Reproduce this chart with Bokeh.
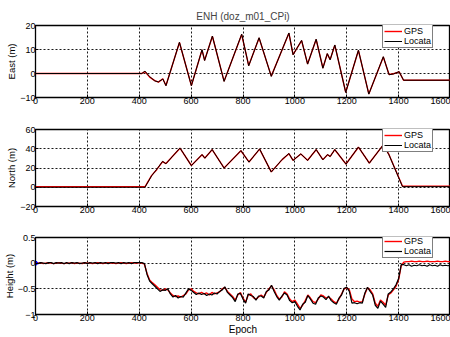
from bokeh.plotting import figure
from bokeh.layouts import column
from bokeh.models import Range1d, FixedTicker, Legend, LegendItem
from bokeh.embed import file_html
from bokeh.resources import INLINE

# ---------------- data ----------------
x_ticks = [0, 200, 400, 600, 800, 1000, 1200, 1400, 1600]
east_ticks = [-10, 0, 10, 20]
north_ticks = [-20, 0, 20, 40, 60]
height_ticks = [-1, -0.5, 0, 0.5]

east_epoch = [0, 410, 422, 440, 460, 474, 491, 503, 555, 601, 642, 652, 682, 727, 795,
              822, 862, 909, 977, 993, 1026, 1049, 1082, 1108, 1125, 1136, 1154, 1196,
              1245, 1285, 1341, 1363, 1380, 1402, 1419, 1600]
east_gps = [0, 0, 0.8, -1.5, -3.0, -3.6, -2.2, -5.0, 12.9, -5.0, 9.8, 5.5, 15.5, -3.2, 16.2,
            3.3, 14.8, -1.1, 16.8, 7.9, 13.7, 4.0, 14.2, 2.3, 8.2, 5.8, 11.8, -7.8,
            9.6, -8.5, 6.9, -0.4, -0.1, 0.7, -2.8, -2.8]
east_locata = [0, 0, 1.0, -1.3, -3.1, -3.5, -2.3, -5.1, 13.0, -5.1, 9.9, 5.4, 15.6, -3.3, 16.4,
               3.2, 14.9, -1.2, 16.9, 7.8, 13.8, 3.9, 14.3, 2.2, 8.3, 5.7, 11.9, -7.9,
               9.7, -8.6, 7.0, -0.5, -0.2, 0.8, -2.8, -2.8]

north_epoch = [0, 422, 448, 468, 490, 503, 557, 601, 642, 653, 681, 727, 792, 823, 864,
               909, 951, 977, 993, 1023, 1049, 1082, 1108, 1126, 1136, 1154, 1197, 1245,
               1287, 1341, 1363, 1415, 1600]
north_gps = [0.5, 0.5, 12.3, 18.5, 26.7, 24.6, 40.6, 22.6, 33.8, 30.4, 39.0, 20.1, 37.9, 26.3, 39.6,
             16.0, 28.7, 34.9, 28.0, 34.5, 28.0, 39.0, 28.7, 33.8, 32.0, 39.0, 24.2, 41.6,
             25.2, 44.0, 33.8, 1.0, 1.0]
north_locata = [0, 0, 12.0, 18.8, 26.9, 24.4, 40.8, 22.4, 34.0, 30.2, 39.2, 19.9, 38.1, 26.1, 39.8,
                15.8, 28.9, 35.1, 27.8, 34.7, 27.8, 39.2, 28.5, 34.0, 31.8, 39.2, 24.0, 41.8,
                25.0, 44.2, 33.6, 0.6, 0.6]

height_epoch = list(range(0, 1601, 10))
height_gps = [
    0.00, 0.00, 0.01, -0.01, 0.00, 0.01, 0.00, -0.01, 0.00, 0.01,
    0.00, -0.01, 0.00, 0.00, 0.01, -0.01, 0.00, 0.00, -0.01, 0.01,
    0.00, 0.00, -0.01, 0.00, 0.01, 0.00, -0.01, 0.00, 0.01, 0.00,
    0.00, -0.01, 0.00, 0.01, 0.00, -0.01, 0.00, 0.01, 0.00, 0.00,
    0.01, 0.00, -0.02, -0.20, -0.33, -0.38, -0.42, -0.47, -0.52, -0.53,
    -0.50, -0.52, -0.58, -0.63, -0.65, -0.64, -0.66, -0.63, -0.60, -0.52,
    -0.50, -0.55, -0.58, -0.60, -0.57, -0.60, -0.58, -0.62, -0.57, -0.60,
    -0.58, -0.56, -0.50, -0.47, -0.55, -0.60, -0.65, -0.72, -0.62, -0.57,
    -0.68, -0.76, -0.62, -0.60, -0.67, -0.70, -0.66, -0.62, -0.66, -0.57,
    -0.50, -0.44, -0.52, -0.63, -0.70, -0.66, -0.56, -0.60, -0.70, -0.75,
    -0.72, -0.80, -0.88, -0.82, -0.73, -0.62, -0.68, -0.75, -0.77, -0.70,
    -0.62, -0.64, -0.68, -0.66, -0.70, -0.75, -0.78, -0.70, -0.60, -0.50,
    -0.48, -0.52, -0.70, -0.75, -0.74, -0.76, -0.75, -0.60, -0.48, -0.52,
    -0.60, -0.78, -0.84, -0.72, -0.76, -0.82, -0.62, -0.58, -0.52, -0.45,
    -0.32, -0.05, 0.02, 0.03, 0.03, 0.04, 0.03, 0.03, 0.04, 0.03,
    0.03, 0.04, 0.03, 0.03, 0.03, 0.04, 0.03, 0.03, 0.04, 0.03,
    0.03]
height_locata = [
    0.01, -0.01, 0.01, 0.00, -0.01, 0.01, 0.01, -0.01, 0.01, 0.00,
    0.01, -0.01, 0.01, -0.01, 0.01, 0.00, 0.01, -0.01, 0.00, 0.01,
    -0.01, 0.01, 0.00, 0.01, -0.01, 0.01, 0.00, 0.01, -0.01, 0.01,
    0.01, 0.00, 0.01, -0.01, 0.01, 0.00, 0.01, -0.01, 0.01, 0.01,
    0.01, 0.01, -0.01, -0.22, -0.35, -0.40, -0.45, -0.50, -0.55, -0.52,
    -0.53, -0.50, -0.60, -0.66, -0.63, -0.68, -0.65, -0.66, -0.58, -0.50,
    -0.53, -0.57, -0.61, -0.58, -0.61, -0.59, -0.63, -0.60, -0.62, -0.58,
    -0.60, -0.55, -0.52, -0.46, -0.57, -0.62, -0.67, -0.75, -0.60, -0.59,
    -0.70, -0.78, -0.60, -0.63, -0.65, -0.72, -0.64, -0.64, -0.68, -0.55,
    -0.52, -0.43, -0.55, -0.65, -0.72, -0.64, -0.58, -0.62, -0.73, -0.77,
    -0.75, -0.84, -0.91, -0.80, -0.76, -0.63, -0.70, -0.78, -0.80, -0.68,
    -0.64, -0.66, -0.71, -0.64, -0.73, -0.77, -0.80, -0.68, -0.62, -0.49,
    -0.47, -0.55, -0.78, -0.77, -0.79, -0.77, -0.78, -0.58, -0.47, -0.55,
    -0.62, -0.82, -0.88, -0.74, -0.80, -0.86, -0.60, -0.56, -0.50, -0.42,
    -0.30, -0.03, -0.03, -0.05, -0.03, -0.06, -0.04, -0.05, -0.03, -0.05,
    -0.04, -0.06, -0.03, -0.05, -0.04, -0.06, -0.03, -0.05, -0.04, -0.05,
    -0.04]
start_marker_x = [0]
start_marker_y = [0]

FONT = "Liberation Sans"
W = 450
LEFT = 34


def make_fig(height, top, bottom, yrange, yticks, ylabel, xlabel=None, title=None):
    p = figure(width=W, height=height, output_backend="svg", toolbar_location=None,
               x_range=Range1d(0, 1600), y_range=Range1d(*yrange),
               min_border_left=LEFT, min_border_right=0,
               min_border_top=top, min_border_bottom=bottom,
               title=title)
    p.background_fill_color = "white"
    p.border_fill_color = "white"
    p.outline_line_color = "black"
    p.outline_line_width = 1.3
    if title:
        p.title.text_font = FONT
        p.title.text_font_size = "10px"
        p.title.text_font_style = "normal"
        p.title.align = "center"
        p.title.standoff = 8
    for ax in (p.xaxis[0], p.yaxis[0]):
        ax.axis_line_color = "black"
        ax.major_tick_line_color = "black"
        ax.major_tick_in = 3
        ax.major_tick_out = 0
        ax.minor_tick_line_color = None
        ax.major_label_text_font = FONT
        ax.major_label_text_font_size = "9px"
        ax.major_label_text_color = "black"
        ax.major_label_standoff = 0
        ax.axis_label_text_font = FONT
        ax.axis_label_text_font_size = "9.5px"
        ax.axis_label_text_font_style = "normal"
        ax.axis_label_text_color = "black"
        ax.axis_label_standoff = 0
    p.xaxis.ticker = FixedTicker(ticks=x_ticks)
    p.yaxis.ticker = FixedTicker(ticks=yticks)
    p.yaxis.axis_label = ylabel
    if xlabel:
        p.xaxis.axis_label = xlabel
        p.xaxis.axis_label_text_font_size = "10px"
    for g in (p.xgrid[0], p.ygrid[0]):
        g.grid_line_color = "black"
        g.grid_line_dash = "2 2"
        g.grid_line_width = 1
        g.grid_line_alpha = 0.9
    return p


def add_legend(p, r_gps, r_loc, vy):
    leg = Legend(items=[LegendItem(label="GPS", renderers=[r_gps]),
                        LegendItem(label="Locata", renderers=[r_loc])],
                 location=(347, vy))
    leg.label_text_font = FONT
    leg.label_text_font_size = "9px"
    leg.label_text_color = "black"
    leg.glyph_width = 18
    leg.glyph_height = 10
    leg.label_height = 10
    leg.label_standoff = 2
    leg.spacing = 0
    leg.padding = 1
    leg.margin = 0
    leg.border_line_color = "black"
    leg.border_line_width = 1
    leg.background_fill_color = "white"
    leg.background_fill_alpha = 1
    p.add_layout(leg)


p1 = make_fig(113, 25, 16, (-10, 20), east_ticks, "East (m)", title="ENH (doz_m01_CPi)")
r1 = p1.line(east_epoch, east_gps, line_color="red", line_width=1.4)
r2 = p1.line(east_epoch, east_locata, line_color="black", line_width=1)
add_legend(p1, r1, r2, 49)

p2 = make_fig(109, 16, 16, (-20, 60), north_ticks, "North (m)")
r3 = p2.line(north_epoch, north_gps, line_color="red", line_width=1.4)
r4 = p2.line(north_epoch, north_locata, line_color="black", line_width=1)
add_legend(p2, r3, r4, 54)

p3 = make_fig(115, 15, 21, (-1, 0.5), height_ticks, "Height (m)", xlabel="Epoch")
r5 = p3.line(height_epoch, height_gps, line_color="red", line_width=1.4)
r6 = p3.line(height_epoch, height_locata, line_color="black", line_width=1.2)
p3.scatter(start_marker_x, start_marker_y, size=4, fill_color="blue", line_color="blue")
add_legend(p3, r5, r6, 56)

layout = column(p1, p2, p3, spacing=0)
open("out.html", "w").write(file_html(layout, INLINE))
